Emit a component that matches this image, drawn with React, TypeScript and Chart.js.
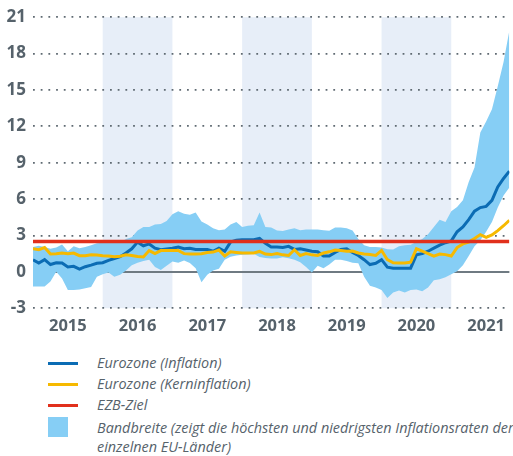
import React, { useEffect, useRef } from 'react';
import { Chart, registerables } from 'chart.js';
Chart.register(...registerables);

const years = ['2015', '2016', '2017', '2018', '2019', '2020', '2021'];
const shadedYearIdx = [1, 3, 5];
const yTicks = [-3, 0, 3, 6, 9, 12, 15, 18, 21];
const lastMonth = 82;
const ecbTarget = 2.5;

const inflation = [
  1.0, 0.72, 1.0, 0.6, 0.75, 0.72, 0.4, 0.45, 0.22, 0.42, 0.55, 0.7,
  0.75, 0.95, 1.1, 1.25, 1.55, 1.9, 2.45, 2.15, 2.3, 1.95, 1.82, 1.88,
  1.95, 2.05, 1.9, 1.95, 1.85, 1.85, 1.85, 1.7, 1.95, 1.7, 2.45, 2.6,
  2.65, 2.65, 2.65, 2.75, 2.35, 2.05, 2.05, 2.0, 2.1, 1.85, 1.9, 1.8,
  1.7, 1.65, 1.3, 1.3, 1.6, 1.85, 1.9, 1.6, 1.35, 1.0, 0.6, 0.7,
  1.0, 0.38, 0.3, 0.3, 0.3, 0.3, 1.4, 1.5, 1.7, 1.95, 2.2, 2.4,
  2.55, 3.3, 3.7, 4.3, 5.0, 5.3, 5.4, 5.9, 7.0, 7.7, 8.3,
];

const coreInflation = [
  1.9, 1.82, 2.0, 1.47, 1.5, 1.55, 1.5, 1.55, 1.33, 1.33, 1.4, 1.38,
  1.33, 1.3, 1.25, 1.28, 1.4, 1.35, 1.27, 1.22, 1.75, 1.5, 1.75, 1.76,
  1.76, 1.76, 1.5, 1.47, 1.47, 1.5, 1.6, 1.63, 1.8, 1.3, 1.65, 1.6,
  1.55, 1.55, 1.55, 1.68, 1.47, 1.42, 1.5, 1.4, 1.35, 1.82, 1.35, 1.5,
  1.4, 1.35, 1.55, 1.65, 1.8, 1.75, 1.7, 1.72, 1.55, 1.47, 1.42, 1.35,
  1.76, 1.0, 0.75, 0.72, 0.72, 0.8, 1.9, 1.7, 1.5, 1.3, 1.47, 1.42,
  1.3, 2.0, 2.3, 2.45, 2.75, 3.07, 2.85, 3.05, 3.4, 3.8, 4.25,
];

const bandHigh = [
  2.05, 2.15, 2.05, 1.9, 2.0, 2.25, 1.7, 2.1, 1.95, 2.05, 2.2, 2.35,
  2.4, 2.4, 2.4, 2.4, 2.7, 2.85, 3.4, 3.7, 3.7, 3.9, 3.95, 4.2,
  4.75, 5.0, 4.8, 4.7, 4.9, 4.15, 3.9, 3.6, 3.42, 3.5, 3.9, 4.1,
  3.7, 3.8, 3.85, 4.9, 3.7, 3.65, 3.4, 3.37, 3.5, 3.6, 3.43, 3.5,
  3.5, 3.5, 3.42, 3.38, 3.65, 3.65, 3.6, 3.4, 2.7, 2.2, 2.05, 2.05,
  2.0, 1.87, 1.85, 2.1, 2.2, 2.24, 2.45, 2.7, 3.1, 3.7, 4.3, 4.1,
  5.0, 5.35, 5.9, 7.4, 8.6, 11.5, 12.4, 13.4, 15.3, 17.3, 19.9,
];

const bandLow = [
  -1.22, -1.22, -1.2, -0.8, 0.0, -0.55, -1.5, -1.5, -1.45, -1.35, -1.25, -0.4,
  -0.2, -0.05, -0.4, -0.25, 0.1, 0.55, 0.75, 0.9, 1.0, 0.4, 0.15, 0.5,
  0.85, 0.75, 0.94, 0.72, 0.3, -0.85, -0.25, 0.1, 0.25, 1.0, 1.25, 1.35,
  1.4, 1.42, 1.5, 1.22, 1.15, 1.1, 1.1, 1.2, 1.12, 1.0, 0.8, 0.4,
  -0.05, 0.5, 0.3, 0.6, 1.0, 1.0, 0.9, 0.75, 0.7, -0.4, -1.15, -1.3,
  -1.5, -2.15, -1.7, -1.55, -1.7, -1.5, -1.45, -1.6, -1.3, -0.7, -0.62, -0.45,
  -0.2, 0.05, 0.55, 1.3, 2.1, 2.6, 3.3, 4.1, 5.3, 6.3, 6.95,
];

const TEXT = '#56626b';
const BLUE = '#0b6cb4';
const YELLOW = '#f6b900';
const RED = '#e1301c';
const BAND = '#86cef5';
const SHADE = '#e7eef8';
const FONT = '"Open Sans", sans-serif';

const toPts = (arr: number[]) => arr.map((v, i) => ({ x: i, y: v }));

const shadePlugin = {
  id: 'yearShade',
  beforeDraw(chart: any) {
    const { ctx, chartArea, scales } = chart;
    const xs = scales.x;
    ctx.save();
    ctx.fillStyle = SHADE;
    shadedYearIdx.forEach((yi) => {
      const x0 = Math.max(chartArea.left, xs.getPixelForValue(yi * 12));
      const x1 = Math.min(chartArea.right, xs.getPixelForValue((yi + 1) * 12));
      ctx.fillRect(x0, chartArea.top, x1 - x0, chartArea.bottom - chartArea.top);
    });
    ctx.restore();
  },
};

function LegendLine({ top, color }: { top: number; color: string }) {
  return (
    <div style={{ position: 'absolute', left: 48, top: top - 1.5, width: 30, height: 3, background: color }} />
  );
}

function LegendText({ top, children }: { top: number; children: React.ReactNode }) {
  return (
    <div
      style={{
        position: 'absolute',
        left: 97,
        top: top - 10,
        lineHeight: '19px',
        fontFamily: FONT,
        fontStyle: 'italic',
        fontSize: 14.4,
        color: TEXT,
        whiteSpace: 'nowrap',
      }}
    >
      {children}
    </div>
  );
}

export default function App() {
  const ref = useRef<HTMLCanvasElement>(null);

  useEffect(() => {
    document.body.style.margin = '0';
    const canvas = ref.current!;
    const chart = new Chart(canvas, {
      type: 'line',
      data: {
        datasets: [
          {
            label: 'EZB-Ziel',
            data: [
              { x: 0, y: ecbTarget },
              { x: lastMonth, y: ecbTarget },
            ],
            borderColor: RED,
            borderWidth: 3.5,
            pointRadius: 0,
            fill: false,
          },
          {
            label: 'Eurozone (Kerninflation)',
            data: toPts(coreInflation),
            borderColor: YELLOW,
            borderWidth: 3,
            pointRadius: 0,
            fill: false,
          },
          {
            label: 'Eurozone (Inflation)',
            data: toPts(inflation),
            borderColor: BLUE,
            borderWidth: 3,
            pointRadius: 0,
            fill: false,
          },
          {
            label: 'Bandbreite hoch',
            data: toPts(bandHigh),
            borderWidth: 0,
            borderColor: 'rgba(0,0,0,0)',
            backgroundColor: BAND,
            pointRadius: 0,
            fill: '+1',
          },
          {
            label: 'Bandbreite tief',
            data: toPts(bandLow),
            borderWidth: 0,
            borderColor: 'rgba(0,0,0,0)',
            pointRadius: 0,
            fill: false,
          },
        ],
      },
      options: {
        responsive: false,
        animation: false,
        events: [],
        layout: { padding: { top: 15, left: 0, right: 0, bottom: 0 } },
        plugins: { legend: { display: false }, tooltip: { enabled: false } },
        scales: {
          x: {
            type: 'linear',
            min: 0,
            max: lastMonth,
            afterBuildTicks: (scale: any) => {
              scale.ticks = years.map((_, i) => ({ value: 6 + 12 * i }));
            },
            ticks: {
              autoSkip: false,
              maxRotation: 0,
              padding: 8,
              color: TEXT,
              font: { family: FONT, size: 16.5, weight: 'bold' },
              callback: (_v: any, i: number) => years[i],
            },
            grid: { display: false, drawTicks: false },
            border: { display: false },
          },
          y: {
            type: 'linear',
            min: -3,
            max: 21,
            afterBuildTicks: (scale: any) => {
              scale.ticks = yTicks.map((v) => ({ value: v }));
            },
            afterFit: (scale: any) => {
              scale.width = 33;
            },
            ticks: {
              padding: 7,
              color: TEXT,
              font: { family: FONT, size: 17, weight: 'bold' },
              callback: (v: any) => String(v),
            },
            grid: {
              drawTicks: false,
              color: (ctx: any) => (ctx.tick && ctx.tick.value === 0 ? '#6f7a82' : '#5f6a72'),
              lineWidth: (ctx: any) => (ctx.tick && ctx.tick.value === 0 ? 2 : 1.8),
            },
            border: {
              display: false,
              dash: (ctx: any) => (ctx.tick && ctx.tick.value === 0 ? [] : [1.8, 5.9]),
            },
          },
        },
      },
      plugins: [shadePlugin],
    } as any);
    return () => chart.destroy();
  }, []);

  return (
    <div style={{ position: 'relative', width: 513, height: 456, background: '#fff', overflow: 'hidden' }}>
      <canvas ref={ref} width={513} height={344} style={{ display: 'block', width: 513, height: 344 }} />
      <LegendLine top={363} color={BLUE} />
      <LegendText top={363}>Eurozone (Inflation)</LegendText>
      <LegendLine top={384} color={YELLOW} />
      <LegendText top={384}>Eurozone (Kerninflation)</LegendText>
      <LegendLine top={405} color={RED} />
      <LegendText top={405}>EZB-Ziel</LegendText>
      <div style={{ position: 'absolute', left: 48, top: 417, width: 20, height: 20, background: BAND }} />
      <LegendText top={428}>Bandbreite (zeigt die höchsten und niedrigsten Inflationsraten der</LegendText>
      <LegendText top={447}>einzelnen EU-Länder)</LegendText>
    </div>
  );
}
